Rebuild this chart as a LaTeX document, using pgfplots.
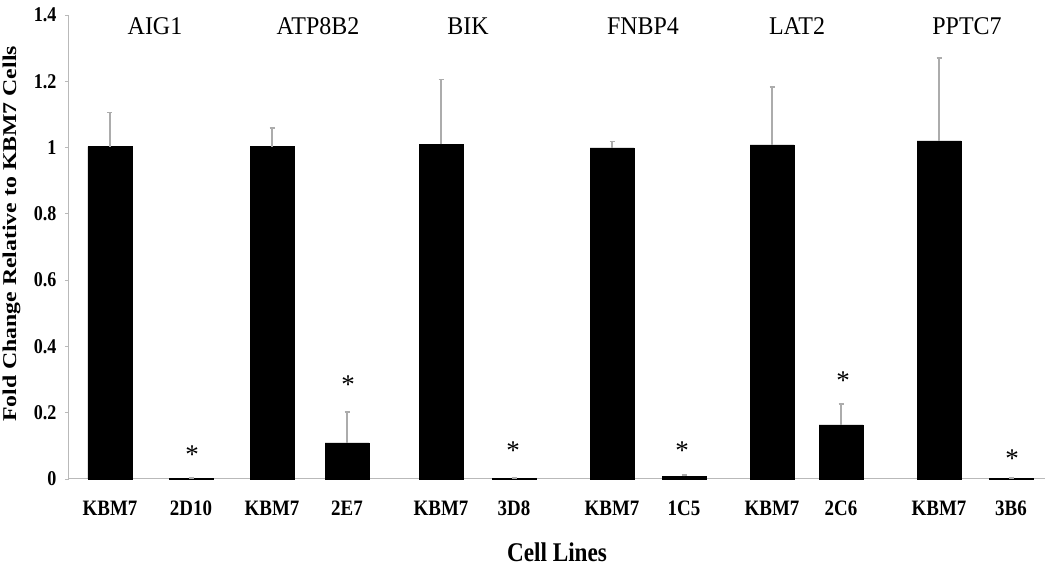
\documentclass[border=0pt]{standalone}
\usepackage{fontspec}
\setmainfont{Liberation Serif}
\newfontfamily\condfont{Liberation Serif}[FakeStretch=0.86]
\newfontfamily\titlefont{Liberation Serif}[FakeStretch=0.94]
\newfontfamily\widefont{Liberation Serif}[FakeStretch=1.22]
\usepackage{pgfplots}
\pgfplotsset{compat=1.18}

% x = horizontal position of each bar, y = fold change, e = upper error
\pgfplotstableread{
x     y      e
110   1.003  0.102
191   0.003  0.000
272   1.003  0.056
347   0.109  0.093
441   1.010  0.195
514   0.003  0.000
612   0.999  0.020
684   0.008  0.004
772   1.008  0.175
841   0.163  0.063
939   1.020  0.250
1011  0.003  0.000
}\foldchange

\begin{document}
\begin{tikzpicture}
\begin{axis}[
    scale only axis,
    width=976pt, height=464pt,
    xmin=69, xmax=1045,
    ymin=0, ymax=1.4,
    axis lines*=left,
    axis line style={gray!55, line width=1pt},
    ybar, bar width=44,
    xtick={110,191,272,347,441,514,612,684,772,841,939,1011},
    xticklabels={KBM7,2D10,KBM7,2E7,KBM7,3D8,KBM7,1C5,KBM7,2C6,KBM7,3B6},
    xtick style={draw=none},
    xticklabel style={font=\condfont\bfseries\fontsize{22}{26}\selectfont,
        anchor=base, yshift=-33pt},
    ytick={0,0.2,0.4,0.6,0.8,1,1.2,1.4},
    yticklabels={0,0.2,0.4,0.6,0.8,1,1.2,1.4},
    ytick style={gray!55, line width=0.8pt},
    tick align=outside,
    major tick length=4pt,
    yticklabel style={font=\condfont\bfseries\fontsize{21}{25}\selectfont, xshift=-5pt},
    xlabel={Cell Lines},
    xlabel style={font=\condfont\bfseries\fontsize{27}{32}\selectfont,
        at={(axis description cs:0.5,0)}, anchor=center, yshift=-73pt},
    ylabel={Fold Change Relative to KBM7 Cells},
    ylabel style={font=\widefont\bfseries\fontsize{19.5}{23}\selectfont,
        at={(axis description cs:-0.059,0.528)}, anchor=center},
    clip=false,
]
\addplot[fill=black, draw=black,
    error bars/.cd, y dir=plus, y explicit,
    error bar style={gray!65, line width=1.2pt},
    error mark options={rotate=90, gray!65, mark size=2.5pt, line width=1.2pt}]
    table[x=x, y=y, y error=e] {\foldchange};

\begin{scope}[every node/.style={font=\titlefont\fontsize{25.5}{30}\selectfont, anchor=base}]
\node at (axis cs:155,1.34) {AIG1};
\node at (axis cs:318,1.34) {ATP8B2};
\node at (axis cs:468,1.34) {BIK};
\node at (axis cs:643,1.34) {FNBP4};
\node at (axis cs:797,1.34) {LAT2};
\node at (axis cs:967,1.34) {PPTC7};
\end{scope}

\begin{scope}[every node/.style={font=\fontsize{27}{30}\selectfont, anchor=center}]
\node at (axis cs:192,0.072) {*};
\node at (axis cs:348,0.284) {*};
\node at (axis cs:513,0.084) {*};
\node at (axis cs:682,0.084) {*};
\node at (axis cs:843,0.296) {*};
\node at (axis cs:1012,0.060) {*};
\end{scope}
\end{axis}
\pgfresetboundingbox
\path[use as bounding box] ([xshift=-69pt,yshift=-88pt]current axis.south west)
    rectangle ([xshift=5pt,yshift=15pt]current axis.north east);
\end{tikzpicture}
\end{document}
